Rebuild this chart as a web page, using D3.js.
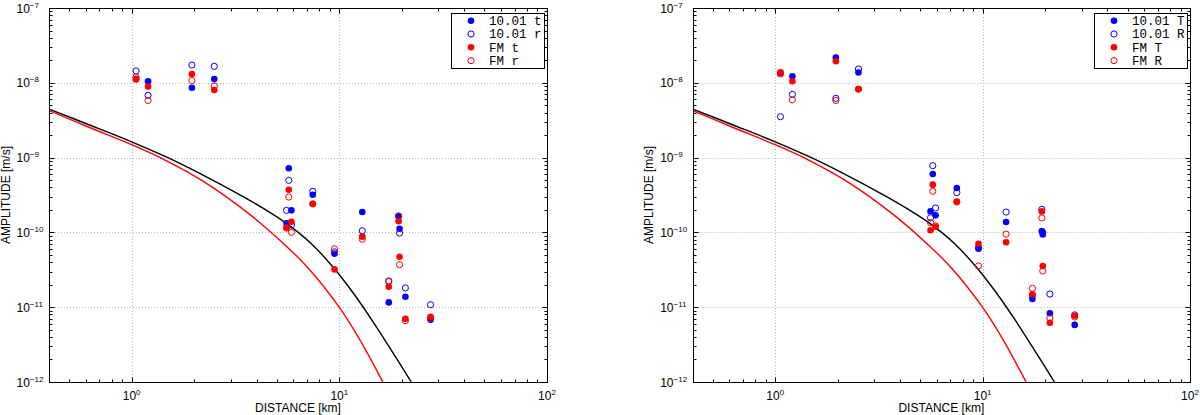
<!DOCTYPE html>
<html><head><meta charset="utf-8">
<script src="https://cdn.jsdelivr.net/npm/d3@7"></script>
<style>body{margin:0;background:#fff}svg{display:block}</style>
</head><body><svg id="c" width="1200" height="415"></svg>
<script>
// ---------- data ----------
const xMajorTicks = [1, 10, 100];
const xMajorExps = ["0", "1", "2"];
const yMajorTicks = [1e-12, 1e-11, 1e-10, 1e-9, 1e-8, 1e-7];
const yMajorExps = ["\u221212", "\u221211", "\u221210", "\u22129", "\u22128", "\u22127"];
const xLabel = "DISTANCE [km]";
const yLabel = "AMPLITUDE [m/s]";

// model curves
const blackCurveDist = [0.4, 0.627, 1.0, 1.442, 2.103, 3.389, 4.326, 5.54, 7.291, 9.513, 11.88, 14.94, 18.1, 22.2];
const blackCurveAmp  = [4.46e-9, 2.73e-9, 1.626e-9, 1.044e-9, 6.245e-10, 3.076e-10, 2.074e-10, 1.331e-10, 7.17e-11, 3.22e-11, 1.446e-11, 5.69e-12, 2.47e-12, 1.0e-12];
const redCurveDist = [0.4, 0.627, 1.0, 1.442, 2.223, 3.664, 5.54, 7.129, 9.945, 12.56, 15.8, 16.2];
const redCurveAmp  = [4.25e-9, 2.526e-9, 1.488e-9, 9.35e-10, 4.776e-10, 1.783e-10, 6.6e-11, 3.27e-11, 1.016e-11, 3.665e-12, 1.145e-12, 1.0e-12];

// left panel stations
const leftDist  = [1.05, 1.2, 1.95, 2.5, 5.57, 5.71, 5.88, 7.45, 9.48, 12.9, 17.3, 19.3, 19.5, 20.8, 27.5];
const leftBlueT = [1.13e-8, 1.05e-8, 8.6e-9, 1.12e-8, 1.32e-10, 7.2e-10, 1.97e-10, 3.19e-10, 5.2e-11, 1.87e-10, 1.16e-11, 1.66e-10, 1.12e-10, 1.38e-11, 6.8e-12];
const leftBlueR = [1.44e-8, 6.8e-9, 1.73e-8, 1.66e-8, 1.97e-10, 4.96e-10, 1.26e-10, 3.54e-10, 5.5e-11, 1.05e-10, 2.24e-11, 1.64e-10, 9.8e-11, 1.81e-11, 1.08e-11];
const leftRedT  = [1.11e-8, 8.9e-9, 1.31e-8, 8.0e-9, 1.16e-10, 3.72e-10, 1.39e-10, 2.42e-10, 3.2e-11, 8.77e-11, 1.88e-11, 1.41e-10, 4.73e-11, 7.0e-12, 7.47e-12];
const leftRedR  = [1.2e-8, 5.8e-9, 1.07e-8, 9.06e-9, 1.14e-10, 2.97e-10, 1.0e-10, 2.4e-10, 6.05e-11, 8.1e-11, 2.2e-11, 1.66e-10, 3.7e-11, 6.6e-12, 7.1e-12];

// right panel stations
const rightDist  = [1.06, 1.21, 1.96, 2.52, 5.61, 5.75, 5.93, 7.51, 9.55, 12.98, 17.38, 19.3, 19.5, 21.1, 27.8];
const rightBlueT = [1.35e-8, 1.22e-8, 2.17e-8, 1.37e-8, 1.91e-10, 6.04e-10, 1.69e-10, 3.92e-10, 6.05e-11, 1.38e-10, 1.29e-11, 1.04e-10, 9.4e-11, 8.3e-12, 5.8e-12];
const rightBlueR = [3.52e-9, 7.0e-9, 6.2e-9, 1.53e-8, 1.57e-10, 7.8e-10, 2.12e-10, 3.4e-10, 6.3e-11, 1.87e-10, 1.45e-11, 2.03e-10, 1.0e-10, 1.5e-11, 7.9e-12];
const rightRedT  = [1.38e-8, 1.05e-8, 1.94e-8, 8.27e-9, 1.07e-10, 4.35e-10, 1.19e-10, 2.58e-10, 7.06e-11, 7.38e-11, 1.49e-11, 1.91e-10, 3.56e-11, 6.2e-12, 7.7e-12];
const rightRedR  = [1.31e-8, 5.94e-9, 5.8e-9, 8.2e-9, 1.35e-10, 3.54e-10, 1.22e-10, 2.55e-10, 3.56e-11, 9.5e-11, 1.79e-11, 1.56e-10, 3.05e-11, 7.2e-12, 7.4e-12];

const leftLegend  = ["10.01 t", "10.01 r", "FM t", "FM r"];
const rightLegend = ["10.01 T", "10.01 R", "FM T", "FM R"];

// ---------- drawing ----------
const svg = d3.select("#c");
const BLUE = "#0000ff", RED = "#ff0000";

function minorTicksX() {
  const t = [];
  [0.1, 1, 10].forEach(d => { for (let k = 2; k <= 9; k++) { const v = k * d; if (v >= 0.4 && v < 100) t.push(v); } });
  return t;
}
function minorTicksY() {
  const t = [];
  for (let e = -12; e <= -8; e++) for (let k = 2; k <= 9; k++) t.push(k * Math.pow(10, e));
  return t;
}

function drawPanel(id, left, right, top, bottom, dist, seriesVals, legendLabels) {
  const g = svg.append("g");
  const x = d3.scaleLog().domain([0.4, 100]).range([left, right]);
  const y = d3.scaleLog().domain([1e-12, 1e-7]).range([bottom, top]);

  const clipId = "clip" + id;
  svg.append("clipPath").attr("id", clipId).append("rect")
    .attr("x", left).attr("y", top).attr("width", right - left).attr("height", bottom - top);

  // grid
  const grid = g.append("g").attr("stroke", "#b8b8b8").attr("stroke-width", 1).attr("stroke-dasharray", "1,2");
  [1, 10].forEach(v => grid.append("line").attr("x1", Math.round(x(v)) + 0.5).attr("x2", Math.round(x(v)) + 0.5).attr("y1", top).attr("y2", bottom));
  [1e-11, 1e-10, 1e-9, 1e-8].forEach(v => grid.append("line").attr("y1", Math.round(y(v)) + 0.5).attr("y2", Math.round(y(v)) + 0.5).attr("x1", left).attr("x2", right));

  // curves
  const line = d3.line().x(d => x(d[0])).y(d => y(d[1])).curve(d3.curveCatmullRom.alpha(0.5));
  const cg = g.append("g").attr("clip-path", `url(#${clipId})`).attr("fill", "none").attr("stroke-width", 1.4);
  cg.append("path").attr("d", line(blackCurveDist.map((d, i) => [d, blackCurveAmp[i]]))).attr("stroke", "#000");
  cg.append("path").attr("d", line(redCurveDist.map((d, i) => [d, redCurveAmp[i]]))).attr("stroke", RED);

  // points
  const pg = g.append("g").attr("clip-path", `url(#${clipId})`);
  const styles = [
    { color: BLUE, filled: true }, { color: BLUE, filled: false },
    { color: RED, filled: true }, { color: RED, filled: false }
  ];
  seriesVals.forEach((vals, si) => {
    const st = styles[si];
    pg.selectAll(null).data(dist.map((d, i) => [d, vals[i]])).enter().append("circle")
      .attr("cx", d => x(d[0])).attr("cy", d => y(d[1]))
      .attr("r", st.filled ? 3.3 : 3.1)
      .attr("fill", st.filled ? st.color : "none")
      .attr("stroke", st.filled ? "none" : st.color)
      .attr("stroke-width", 1);
  });

  // frame
  const L = Math.round(left) + 0.5, R = Math.round(right) + 0.5, T = Math.round(top) + 0.5, B = Math.round(bottom) + 0.5;
  g.append("rect").attr("x", L).attr("y", T).attr("width", R - L).attr("height", B - T)
    .attr("fill", "none").attr("stroke", "#000").attr("stroke-width", 1);

  // ticks (inward, all sides)
  const tk = g.append("g").attr("stroke", "#000").attr("stroke-width", 1);
  const xt = xMajorTicks.map(v => ({ v, len: 5 })).concat(minorTicksX().map(v => ({ v, len: 3 })));
  xt.forEach(t => {
    const px = Math.round(x(t.v)) + 0.5;
    tk.append("line").attr("x1", px).attr("x2", px).attr("y1", B).attr("y2", B - t.len);
    tk.append("line").attr("x1", px).attr("x2", px).attr("y1", T).attr("y2", T + t.len);
  });
  const yt = yMajorTicks.map(v => ({ v, len: 5 })).concat(minorTicksY().map(v => ({ v, len: 3 })));
  yt.forEach(t => {
    const py = Math.round(y(t.v)) + 0.5;
    tk.append("line").attr("y1", py).attr("y2", py).attr("x1", L).attr("x2", L + t.len);
    tk.append("line").attr("y1", py).attr("y2", py).attr("x1", R).attr("x2", R - t.len);
  });

  // tick labels
  const font = "'Liberation Sans', Arial, Helvetica, sans-serif";
  xMajorTicks.forEach((v, i) => {
    const t = g.append("text").attr("x", x(v)).attr("y", bottom + 18)
      .attr("text-anchor", "middle").attr("font-family", font).attr("font-size", 12).attr("fill", "#000");
    t.append("tspan").text("10");
    t.append("tspan").attr("dy", -5).attr("font-size", 8).text(xMajorExps[i]);
  });
  yMajorTicks.forEach((v, i) => {
    const t = g.append("text").attr("x", left - 32.5).attr("y", y(v) + 4.5)
      .attr("text-anchor", "start").attr("font-family", font).attr("font-size", 12).attr("fill", "#000");
    t.append("tspan").text("10");
    t.append("tspan").attr("dy", -5).attr("font-size", 8).text(yMajorExps[i]);
  });

  // axis titles
  g.append("text").attr("x", (left + right) / 2).attr("y", 412)
    .attr("text-anchor", "middle").attr("font-family", font).attr("font-size", 12).text(xLabel);
  g.append("text").attr("transform", `translate(${left - 39.5},${(top + bottom) / 2}) rotate(-90)`)
    .attr("text-anchor", "middle").attr("font-family", font).attr("font-size", 12).text(yLabel);

  // legend
  const lw = 92.6, lh = 54.6;
  const lx = right - 3.7 - lw, ly = 12.7;
  const lg = g.append("g");
  lg.append("rect").attr("x", Math.round(lx) + 0.5).attr("y", Math.round(ly) + 0.5).attr("width", Math.round(lw)).attr("height", Math.round(lh))
    .attr("fill", "#fff").attr("stroke", "#000").attr("stroke-width", 1);
  legendLabels.forEach((lab, i) => {
    const st = styles[i];
    const cy = ly + 8 + i * 13.3;
    lg.append("circle").attr("cx", lx + 20.3).attr("cy", cy)
      .attr("r", st.filled ? 3.3 : 3.1)
      .attr("fill", st.filled ? st.color : "none")
      .attr("stroke", st.filled ? "none" : st.color).attr("stroke-width", 1);
    lg.append("text").attr("x", lx + 38.3).attr("y", cy + 4.2)
      .attr("font-family", "'Liberation Mono', 'Courier New', monospace").attr("font-size", 12.5)
      .attr("fill", "#000").attr("xml:space", "preserve").text(lab);
  });
}

drawPanel("L", 49, 547, 8, 382, leftDist, [leftBlueT, leftBlueR, leftRedT, leftRedR], leftLegend);
drawPanel("R", 692.7, 1190, 8, 382, rightDist, [rightBlueT, rightBlueR, rightRedT, rightRedR], rightLegend);
</script>
</body></html>
